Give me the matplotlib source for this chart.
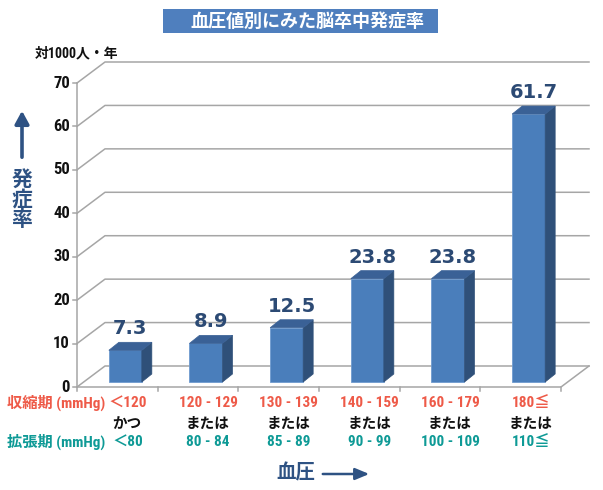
import matplotlib
matplotlib.use('Agg')
import matplotlib.pyplot as plt
from matplotlib.patches import Polygon, Rectangle, FancyArrowPatch
from matplotlib import font_manager as fm
from matplotlib import transforms

# ---------------- data ----------------
values = [7.3, 8.9, 12.5, 23.8, 23.8, 61.7]
value_labels = ['7.3', '8.9', '12.5', '23.8', '23.8', '61.7']
systolic = ['＜120', '120 - 129', '130 - 139', '140 - 159', '160 - 179', '180≦']
connectors = ['かつ', 'または', 'または', 'または', 'または', 'または']
diastolic = ['＜80', '80 - 84', '85 - 89', '90 - 99', '100 - 109', '110≦']
yticks = [0, 10, 20, 30, 40, 50, 60, 70]
title = '血圧値別にみた脳卒中発症率'
unit_label = '対1000人・年'
ylabel = '発症率'
xlabel = '血圧'
row1_label = '収縮期 (mmHg)'
row3_label = '拡張期 (mmHg)'

# ---------------- fonts ----------------
names = {f.name for f in fm.fontManager.ttflist}
NARROW = None
for cand in ['Liberation Sans Narrow', 'Roboto Condensed', 'Open Sans Condensed',
             'DejaVu Sans Condensed']:
    if cand in names:
        NARROW = cand
        break
if NARROW is None:
    NARROW = 'Liberation Sans'
    NSZ = 9.5
else:
    NSZ = 11
JP = 'Noto Sans CJK JP'
MIX = [NARROW, JP, 'DejaVu Sans']
JPF = [JP, 'DejaVu Sans']

W, H = 603, 490
fig = plt.figure(figsize=(W / 100, H / 100), dpi=100)

# front plane of the 3D box (pixel layout)
L, R, B, T = 77, 561, 387, 83
ax = fig.add_axes([L / W, 1 - B / H, (R - L) / W, (B - T) / H])
n = len(values)
ax.set_xlim(-0.5, n - 0.5)
ax.set_ylim(0, 70)
ax.axis('off')

sx = n / (R - L)      # data units per pixel (x)
sy = 70 / (B - T)     # data units per pixel (y)

WDX, WDY = 28 * sx, 21 * sy      # wall depth
OX, OY = 8 * sx, 5 * sy          # bar front offset
BDX, BDY = 10 * sx, 8 * sy       # bar depth
BW = 33 * sx                     # bar width

grid_c = '#a6a6a6'
x0, x1 = -0.5, n - 0.5

# gridlines: left wall diagonal + back wall horizontal
for v in yticks:
    ax.plot([x0, x0 + WDX, x1 + WDX], [v, v + WDY, v + WDY], color=grid_c,
            lw=1.1, clip_on=False, zorder=1)
    ax.plot([x0 - 4 * sx, x0], [v, v], color=grid_c, lw=1.1, clip_on=False, zorder=1)
    ax.text(x0 - 7 * sx, v, str(v), ha='right', va='center', fontsize=NSZ + 1,
            fontweight='bold', family=MIX, color='#111111')

# front axis & floor
ax.plot([x0, x0], [0, 70], color=grid_c, lw=1.1, clip_on=False, zorder=1)
ax.plot([x0, x1, x1 + WDX], [0, 0, WDY], color=grid_c, lw=1.1, clip_on=False, zorder=1)
for k in range(n + 1):
    ax.plot([x0 + k, x0 + k], [0, -4 * sy], color=grid_c, lw=1.1, clip_on=False, zorder=1)

front_c, side_c, top_c = '#4a7ebb', '#2f5079', '#3a6196'
label_c = '#2c4a74'

for i, v in enumerate(values):
    xl = i - BW / 2 + OX
    xr = xl + BW
    top = v + OY
    ax.bar(xl + BW / 2, v, width=BW, bottom=OY, color=front_c,
           edgecolor='#6f9bd0', linewidth=0.6, zorder=3, clip_on=False)
    ax.add_patch(Polygon([(xr, OY), (xr, top), (xr + BDX, top + BDY), (xr + BDX, OY + BDY)],
                         closed=True, facecolor=side_c, edgecolor=side_c, lw=0.5,
                         zorder=3, clip_on=False))
    ax.add_patch(Polygon([(xl, top), (xr, top), (xr + BDX, top + BDY), (xl + BDX, top + BDY)],
                         closed=True, facecolor=top_c, edgecolor=top_c, lw=0.5,
                         zorder=3, clip_on=False))
    ax.text(xl + BW / 2 + BDX / 2, top + BDY + 8 * sy, value_labels[i], ha='center',
            va='baseline', fontsize=14, fontweight='bold', family='DejaVu Sans',
            color=label_c, zorder=4)

# category labels under the chart
tr = transforms.blended_transform_factory(ax.transData, fig.transFigure)
red_c, teal_c = '#ee5a48', '#0e9a96'
for i in range(n):
    xc = i + OX + 2 * sx
    ax.text(xc, 1 - 403 / H, systolic[i], transform=tr, ha='center', va='center',
            fontsize=NSZ, fontweight='bold', family=MIX, color=red_c)
    ax.text(xc, 1 - 423 / H, connectors[i], transform=tr, ha='center', va='center',
            fontsize=10.5, fontweight='bold', family=JPF, color='#111111')
    ax.text(xc, 1 - 442 / H, diastolic[i], transform=tr, ha='center', va='center',
            fontsize=NSZ, fontweight='bold', family=MIX, color=teal_c)

fig.text(7 / W, 1 - 403 / H, row1_label, ha='left', va='center', fontsize=NSZ,
         fontweight='bold', family=MIX, color=red_c)
fig.text(7 / W, 1 - 442 / H, row3_label, ha='left', va='center', fontsize=NSZ,
         fontweight='bold', family=MIX, color=teal_c)

# unit label
fig.text(35 / W, 1 - 53 / H, unit_label, ha='left', va='center', fontsize=10,
         fontweight='bold', family=MIX, color='#111111')

# title box
fig.add_artist(Rectangle((163 / W, 1 - 33 / H), (438 - 163) / W, 24 / H,
                         transform=fig.transFigure, facecolor='#4f7fbe', edgecolor='none'))
fig.text(307 / W, 1 - 21.5 / H, title, ha='center', va='center', fontsize=13,
         fontweight='bold', family=JPF, color='white')

# y label with arrow
blue_c = '#2e5283'
fig.text(22 / W, 1 - 199 / H, '\n'.join(ylabel), ha='center', va='center', fontsize=15,
         fontweight='bold', family=JPF, color=blue_c, linespacing=0.95)
fig.add_artist(FancyArrowPatch(
    (22, H - 160), (22, H - 108), transform=None,
    arrowstyle='-|>,head_length=0.55,head_width=0.3', mutation_scale=14,
    color=blue_c, lw=2.6))

# x label with arrow
fig.text(296 / W, 1 - 473 / H, xlabel, ha='center', va='center', fontsize=14,
         fontweight='bold', family=JPF, color=blue_c)
fig.add_artist(FancyArrowPatch(
    (320, H - 474), (372, H - 474), transform=None,
    arrowstyle='-|>,head_length=0.6,head_width=0.25', mutation_scale=14,
    color=blue_c, lw=1.8))

fig.savefig('out.png', dpi=100)
